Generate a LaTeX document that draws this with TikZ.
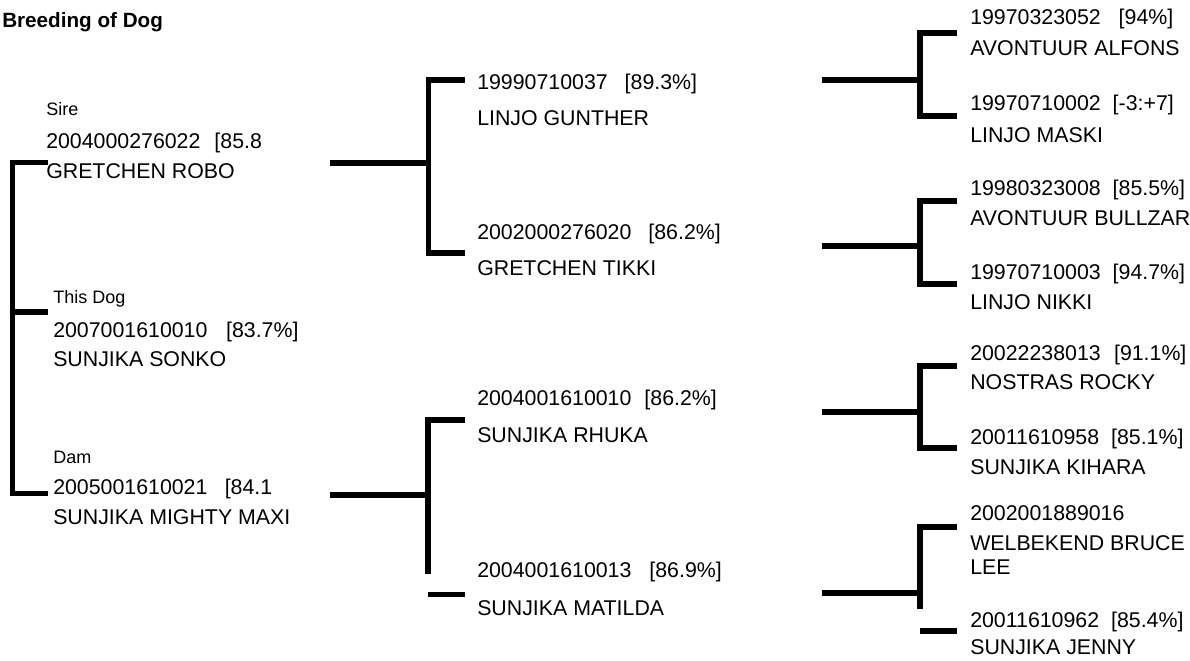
\documentclass[tikz,border=0pt]{standalone}
\usepackage{fontspec}
\setmainfont{Liberation Sans}
\usetikzlibrary{positioning}
\tikzset{
  txt/.style={anchor=base west, inner sep=0pt, font=\fontsize{16}{19}\selectfont},
  lbl/.style={anchor=base west, inner sep=0pt, font=\fontsize{13.5}{16}\selectfont},
  link/.style={line width=4pt}
}
\begin{document}
\begin{tikzpicture}[x=0.75pt,y=-0.75pt]
  \useasboundingbox (0,0) rectangle (1190,661);
  % Titolo
  \node[anchor=base west, inner sep=0pt, font=\fontsize{15.5}{18}\selectfont\bfseries] (title) at (2,27) {Breeding of Dog};

  % Prima colonna
  \node[lbl] (sireLbl) at (46,115) {Sire};
  \node[txt] (sireId) at (46,148) {2004000276022\hspace{10.5pt}[85.8};
  \node[txt] (sireName) at (46,178) {GRETCHEN ROBO};
  \node[lbl] (dogLbl) at (53,303) {This Dog};
  \node[txt] (dogId) at (53,337) {2007001610010\hspace{14pt}[83.7\%]};
  \node[txt] (dogName) at (53,366) {SUNJIKA SONKO};
  \node[lbl] (damLbl) at (53,463) {Dam};
  \node[txt] (damId) at (53,494) {2005001610021\hspace{13pt}[84.1};
  \node[txt] (damName) at (53,524) {SUNJIKA MIGHTY MAXI};

  % Seconda colonna
  \node[txt] (ssId) at (477,89.5) {19990710037\hspace{12.75pt}[89.3\%]};
  \node[txt] (ssName) at (477,125.5) {LINJO GUNTHER};
  \node[txt] (sdId) at (477,239.5) {2002000276020\hspace{12.75pt}[86.2\%]};
  \node[txt] (sdName) at (477,275.5) {GRETCHEN TIKKI};
  \node[txt] (dsId) at (477,405.5) {2004001610010\hspace{9.75pt}[86.2\%]};
  \node[txt] (dsName) at (477,442.5) {SUNJIKA RHUKA};
  \node[txt] (ddId) at (477,577.5) {2004001610013\hspace{13.5pt}[86.9\%]};
  \node[txt] (ddName) at (477,615.5) {SUNJIKA MATILDA};

  % Terza colonna
  \node[txt] (sssId) at (970,24.5) {19970323052\hspace{13.5pt}[94\%]};
  \node[txt] (sssName) at (970,55.5) {AVONTUUR ALFONS};
  \node[txt] (ssdId) at (970,110.5) {19970710002\hspace{9pt}[-3:+7]};
  \node[txt] (ssdName) at (970,142.5) {LINJO MASKI};
  \node[txt] (sdsId) at (970,195.5) {19980323008\hspace{9pt}[85.5\%]};
  \node[txt] (sdsName) at (970,225.5) {AVONTUUR BULLZAR};
  \node[txt] (sddId) at (970,279.5) {19970710003\hspace{9pt}[94.7\%]};
  \node[txt] (sddName) at (970,309.5) {LINJO NIKKI};
  \node[txt] (dssId) at (970,360.5) {20022238013\hspace{10pt}[91.1\%]};
  \node[txt] (dssName) at (970,389.5) {NOSTRAS ROCKY};
  \node[txt] (dsdId) at (970,444.5) {20011610958\hspace{9pt}[85.1\%]};
  \node[txt] (dsdName) at (970,474.5) {SUNJIKA KIHARA};
  \node[txt] (ddsId) at (970,520.5) {2002001889016};
  \node[txt] (ddsName) at (970,550.5) {WELBEKEND BRUCE};
  \node[txt] (ddsName2) at (970,574.5) {LEE};
  \node[txt] (dddId) at (970,627.5) {20011610962\hspace{9pt}[85.4\%]};
  \node[txt] (dddName) at (970,654.5) {SUNJIKA JENNY};

  % Punti delle parentesi
  \coordinate (root) at (12.5,312);
  \coordinate (sireArm) at (48,162.5);
  \coordinate (dogArm) at (48,312);
  \coordinate (damArm) at (48,493.5);

  \coordinate (sireStem) at (330,163);
  \coordinate (sireFork) at (428.5,163);
  \coordinate (ssArm) at (465,80);
  \coordinate (sdArm) at (465,253);
  \coordinate (damStem) at (330,495);
  \coordinate (damFork) at (428,495);
  \coordinate (damEnd) at (428,574);
  \coordinate (dsArm) at (465,420);
  \coordinate (ddStub) at (428,594.5);
  \coordinate (ddArm) at (465,594.5);

  \coordinate (ssStem) at (822,80);
  \coordinate (ssFork) at (920,80);
  \coordinate (sssArm) at (957,33);
  \coordinate (ssdArm) at (957,116);
  \coordinate (sdStem) at (822,246);
  \coordinate (sdFork) at (920,246);
  \coordinate (sdsArm) at (957,201);
  \coordinate (sddArm) at (957,284);
  \coordinate (dsStem) at (822,412);
  \coordinate (dsFork) at (920,412);
  \coordinate (dssArm) at (957,366);
  \coordinate (dsdArm) at (957,448);
  \coordinate (ddStem) at (822,593);
  \coordinate (ddFork) at (920,593);
  \coordinate (ddEnd) at (920,609);
  \coordinate (ddsArm) at (957,527);
  \coordinate (dddStub) at (920,631);
  \coordinate (dddArm) at (957,631);

  % Disegno delle parentesi
  \draw[link] (sireArm) -| (root) |- (damArm);
  \draw[link] (root) -- (dogArm);

  \draw[link] (sireStem) -- (sireFork);
  \draw[link] (ssArm) -| (sireFork) |- (sdArm);
  \draw[link] (damStem) -- (damFork);
  \draw[link] (dsArm) -| (damFork) -- (damEnd);
  \draw[link] (ddStub) -- (ddArm);

  \draw[link] (ssStem) -- (ssFork);
  \draw[link] (sssArm) -| (ssFork) |- (ssdArm);
  \draw[link] (sdStem) -- (sdFork);
  \draw[link] (sdsArm) -| (sdFork) |- (sddArm);
  \draw[link] (dsStem) -- (dsFork);
  \draw[link] (dssArm) -| (dsFork) |- (dsdArm);
  \draw[link] (ddStem) -- (ddFork);
  \draw[link] (ddsArm) -| (ddFork) -- (ddEnd);
  \draw[link] (dddStub) -- (dddArm);
\end{tikzpicture}
\end{document}
